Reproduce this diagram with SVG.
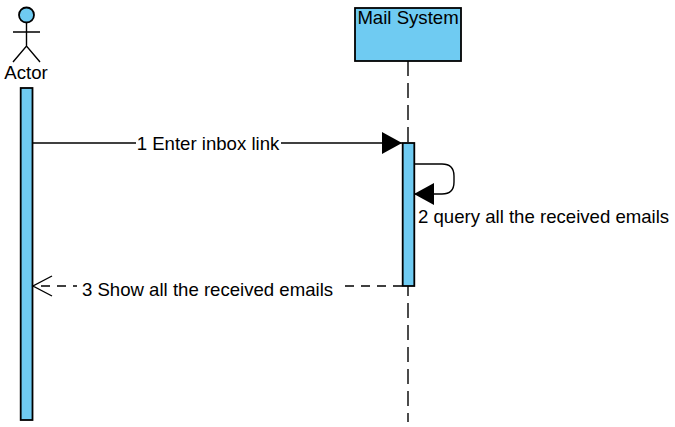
<svg xmlns="http://www.w3.org/2000/svg" width="675" height="427" viewBox="0 0 675 427">
<defs>
<style>
.f{fill:#6fcbf2;stroke:#000;stroke-width:1.800}
.l{fill:none;stroke:#000;stroke-width:1.400}
.t{font-family:"Liberation Sans",Arial,sans-serif;font-size:18.600px;fill:#000}
.bg{fill:#fff;stroke:none}
</style>
<marker id="solid" markerUnits="userSpaceOnUse" markerWidth="22" markerHeight="24" refX="20" refY="11" orient="auto"><path d="M0,0L20,11L0,22Z" fill="#000"/></marker>
<marker id="open" markerUnits="userSpaceOnUse" markerWidth="22" markerHeight="24" refX="20" refY="11" orient="auto"><path d="M1,1L20,11L1,21" fill="none" stroke="#000" stroke-width="1.400"/></marker>
</defs>
<rect width="675" height="427" fill="#fff"/>
<g id="actor">
<circle class="f" cx="26.500" cy="15" r="7.500"/>
<path class="l" d="M26.500 23V46M13 32H40M13 62L26.500 46L40 62"/>
<text class="t" x="26" y="79" text-anchor="middle">Actor</text>
<rect class="f" x="20.700" y="88" width="11.800" height="332"/>
</g>
<g id="mail-system">
<line class="l" x1="408" y1="61" x2="408" y2="422" stroke-dasharray="15 7"/>
<rect class="f" x="355" y="8" width="106" height="53"/>
<text class="t" x="408" y="24" text-anchor="middle">Mail System</text>
<rect class="f" x="402.700" y="143" width="11.600" height="143"/>
</g>
<g id="connectors">
<line class="l" x1="33" y1="143" x2="402" y2="143" marker-end="url(#solid)"/>
<rect class="bg" x="136" y="134" width="145" height="18"/>
<text class="t" x="208" y="150" text-anchor="middle">1 Enter inbox link</text>
<path class="l" d="M414 164H442Q454 164 454 176V182Q454 194 442 194H414" marker-end="url(#solid)"/>
<text class="t" x="418" y="223">2 query all the received emails</text>
<line class="l" x1="402" y1="286" x2="33" y2="286" stroke-dasharray="9 7" marker-end="url(#open)"/>
<rect class="bg" x="77" y="279" width="262" height="18"/>
<text class="t" x="207.500" y="296" text-anchor="middle">3 Show all the received emails</text>
</g>
</svg>
